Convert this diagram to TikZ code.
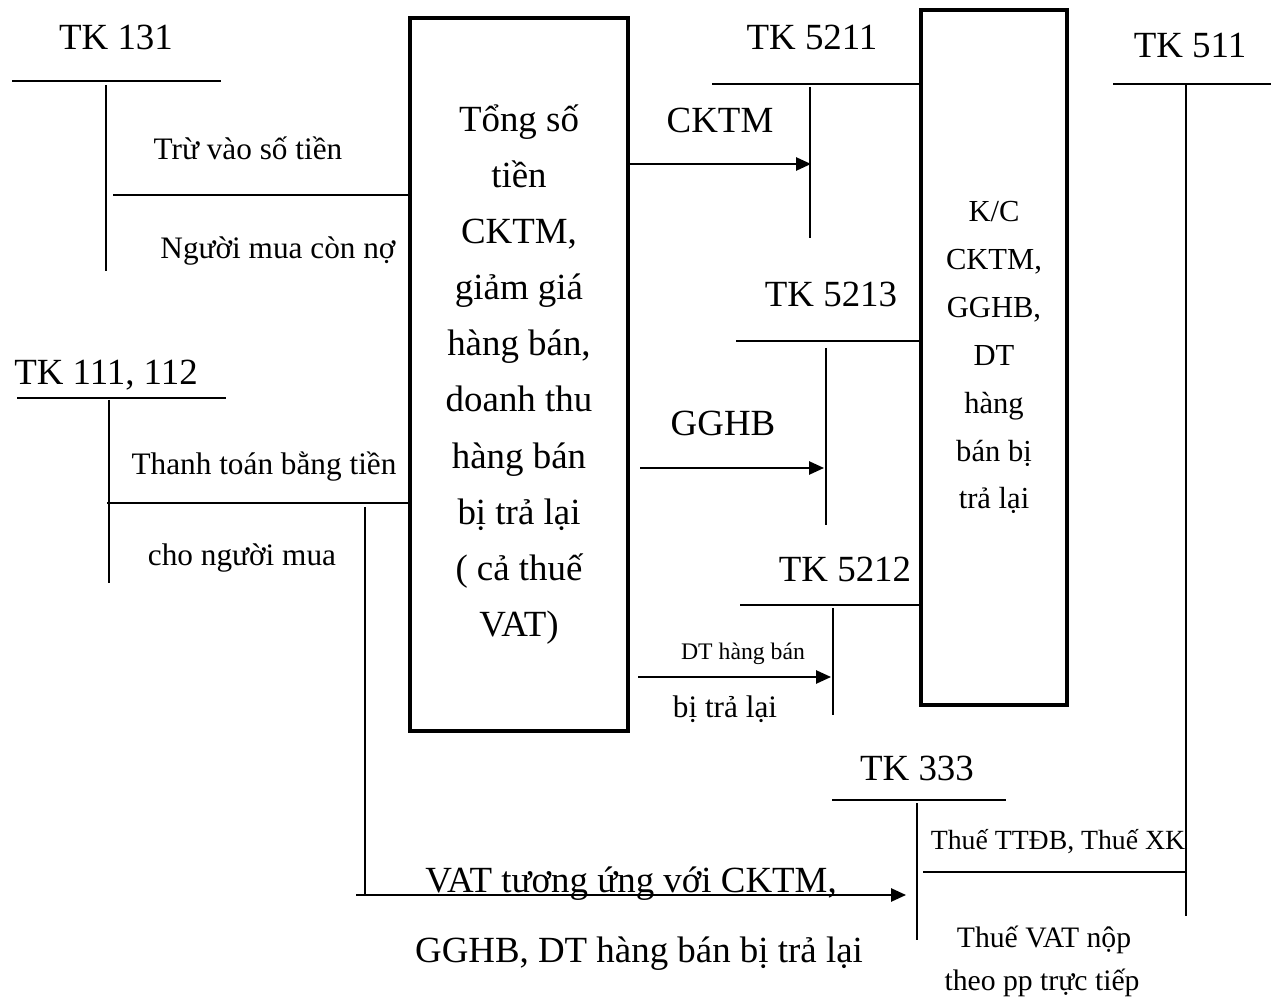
\documentclass[tikz,border=0pt]{standalone}
\usepackage{fontspec}
\setmainfont{Liberation Serif}
\usetikzlibrary{positioning, arrows.meta, calc}
\tikzset{
  AC/.style={font=\fontsize{21}{25}\selectfont,anchor=base,inner sep=0pt},
  NT/.style={font=\fontsize{17.8}{22}\selectfont,anchor=base,inner sep=0pt},
  SM/.style={font=\fontsize{13.5}{16}\selectfont,anchor=base,inner sep=0pt},
  TX/.style={font=\fontsize{16.9}{20}\selectfont,anchor=base,inner sep=0pt},
  TL/.style={line width=1.1pt},
  BX/.style={draw,line width=2.6pt,inner sep=0pt,align=center},
  FL/.style={-{Triangle[length=8.5pt,width=7.5pt]},line width=1.1pt},
}
\begin{document}
\begin{tikzpicture}[x=0.02cm,y=-0.02cm]
\useasboundingbox (0,0) rectangle (1271,999);

% Boxes
\node[BX,minimum width=4.36cm,minimum height=14.26cm,font=\fontsize{21}{31.9}\selectfont](tong) at (519,374.5)
  {Tổng số\\tiền\\CKTM,\\giảm giá\\hàng bán,\\doanh thu\\hàng bán\\bị trả lại\\( cả thuế\\VAT)};
\node[BX,minimum width=2.92cm,minimum height=13.9cm,font=\fontsize{17.4}{27.3}\selectfont](kc) at (994,357.5)
  {K/C\\CKTM,\\GGHB,\\DT\\hàng\\bán bị\\trả lại};

% TK 131
\node[AC](l131) at (116,50){TK 131};
\draw[TL](12,81)--(221,81);
\draw[TL](106,85)--(106,271);
\coordinate(c131) at (113,195);
\draw[TL](c131)--(c131 -| tong.west);
\node[NT](n131a) at (248,160){Trừ vào số tiền};
\node[NT](n131b) at (278,259){Người mua còn nợ};

% TK 111, 112
\node[AC](l111) at (106,385){TK 111, 112};
\draw[TL](17,398)--(226,398);
\draw[TL](109,400)--(109,583);
\coordinate(c111) at (107,503);
\draw[TL](c111)--(c111 -| tong.west);
\node[NT](n111a) at (264,475){Thanh toán bằng tiền};
\node[NT](n111b) at (242,566){cho người mua};

% VAT -> TK 333
\coordinate(vtop) at (365,507);
\coordinate(vst) at (356,895);
\coordinate(t333) at (906,895);
\draw[TL](vtop)--(vtop |- vst);
\draw[FL](vst)--(t333);
\node[AC](nvat1) at (631,892){VAT tương ứng với CKTM,};
\node[AC](nvat2) at (639,962){GGHB, DT hàng bán bị trả lại};

% TK 5211
\node[AC](l5211) at (812,50){TK 5211};
\coordinate(h5211) at (712,84);
\draw[TL](h5211)--(h5211 -| kc.west);
\draw[TL](810,87)--(810,238);
\coordinate(t5211) at (811,164);
\draw[FL](tong.east |- t5211)--(t5211);
\node[AC](nck) at (720,133){CKTM};

% TK 5213
\node[AC](l5213) at (831,307){TK 5213};
\coordinate(h5213) at (736,341);
\draw[TL](h5213)--(h5213 -| kc.west);
\draw[TL](826,348)--(826,525);
\coordinate(t5213) at (824,468);
\draw[FL]([xshift=0.2cm]tong.east |- t5213)--(t5213);
\node[AC](ngg) at (723,436){GGHB};

% TK 5212
\node[AC](l5212) at (845,582){TK 5212};
\coordinate(h5212) at (740,605);
\draw[TL](h5212)--(h5212 -| kc.west);
\draw[TL](833,608)--(833,715);
\coordinate(t5212) at (831,677);
\draw[FL]([xshift=0.16cm]tong.east |- t5212)--(t5212);
\node[SM](ndt1) at (743,660){DT hàng bán};
\node[NT](ndt2) at (725,717){bị trả lại};

% TK 333
\node[AC](l333) at (917,780){TK 333};
\draw[TL](832,800)--(1006,800);
\draw[TL](917,803)--(917,940);
\coordinate(h333) at (923,872);
\node[font=\fontsize{15.8}{18}\selectfont,anchor=base,inner sep=0pt](nttdb) at (1058,849){Thuế TTĐB, Thuế XK};
\node[TX](nvn1) at (1044,947){Thuế VAT nộp};
\node[TX](nvn2) at (1042,990){theo pp trực tiếp};

% TK 511
\node[AC](l511) at (1190,58){TK 511};
\draw[TL](1113,84)--(1271,84);
\coordinate(v511) at (1186,84);
\draw[TL](v511)--(1186,916);
\draw[TL](h333)--(h333 -| v511);

\end{tikzpicture}
\end{document}
